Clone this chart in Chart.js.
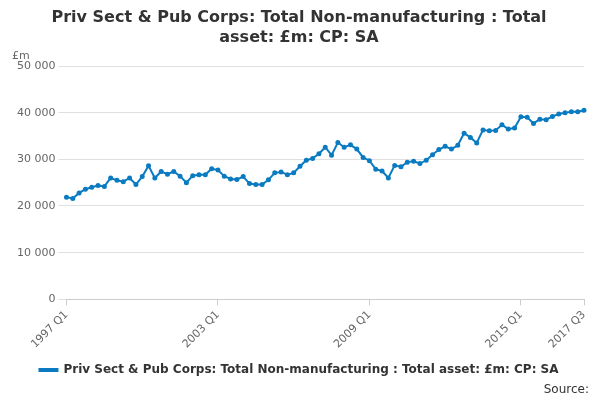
<!DOCTYPE html><html><head><meta charset="utf-8"><script src="https://cdn.jsdelivr.net/npm/chart.js@4"></script>
<style>body{margin:0;font-family:"DejaVu Sans";}#w{position:relative;width:600px;height:400px}</style></head><body><div id="w"><canvas id="c" width="600" height="400"></canvas>
<div style="position:absolute;right:11px;top:382px;font-size:12px;color:#333">Source:</div></div>
<script>
const values=[21.9,21.6,22.8,23.6,24.0,24.4,24.2,26.0,25.5,25.2,26.0,24.6,26.3,28.6,26.0,27.4,26.8,27.4,26.4,25.0,26.5,26.7,26.7,28.0,27.7,26.4,25.8,25.7,26.3,24.8,24.6,24.6,25.6,27.1,27.3,26.7,27.1,28.5,29.8,30.2,31.2,32.6,30.9,33.6,32.6,33.1,32.2,30.4,29.7,27.9,27.5,26.0,28.7,28.4,29.4,29.6,29.1,29.8,31.0,32.1,32.8,32.2,33.0,35.6,34.7,33.5,36.3,36.1,36.2,37.4,36.5,36.7,39.1,39.0,37.7,38.6,38.5,39.2,39.7,40.0,40.2,40.2,40.5].map(v=>v*1000);
const categories=[];for(let y=1997;y<=2017;y++)for(let q=1;q<=4;q++)if(categories.length<83)categories.push(y+' Q'+q);
const shownTicks=['1997 Q1','2003 Q1','2009 Q1','2015 Q1','2017 Q3'];
Chart.defaults.font.family='"DejaVu Sans"';
new Chart(document.getElementById('c'),{type:'line',data:{labels:categories,datasets:[{label:'Priv Sect & Pub Corps: Total Non-manufacturing : Total asset: £m: CP: SA',data:values,borderColor:'#0a7bc1',backgroundColor:'#0a7bc1',borderWidth:2,pointRadius:1.5,tension:0}]},
options:{responsive:false,animation:false,layout:{padding:{left:14,right:16,top:0,bottom:14}},
plugins:{title:{display:true,text:['Priv Sect & Pub Corps: Total Non-manufacturing : Total','asset: £m: CP: SA'],font:{size:16,weight:'bold',lineHeight:1.25},color:'#333',padding:{top:8,bottom:18}},
legend:{position:'bottom',labels:{boxWidth:18,boxHeight:2,color:'#333',font:{size:12,weight:'bold'}}}},
scales:{x:{grid:{display:true,drawOnChartArea:false,color:'#ccc',tickLength:6},border:{color:'#ccc'},ticks:{autoSkip:false,maxRotation:45,minRotation:45,color:'#666',font:{size:11},callback:function(v,i){const l=categories[i];return shownTicks.includes(l)?l:null;}}},
y:{min:0,max:50000,ticks:{stepSize:10000,color:'#666',font:{size:11},callback:v=>v.toLocaleString('en').replace(/,/g,' ')},grid:{color:'#e0e0e0'},border:{display:false}}}},
plugins:[{id:'unit',afterDraw(c){const x=c.ctx;x.save();x.font='11px "DejaVu Sans"';x.fillStyle='#666';x.fillText('£m',12,c.scales.y.top-10);x.restore();}}]});
</script></body></html>
